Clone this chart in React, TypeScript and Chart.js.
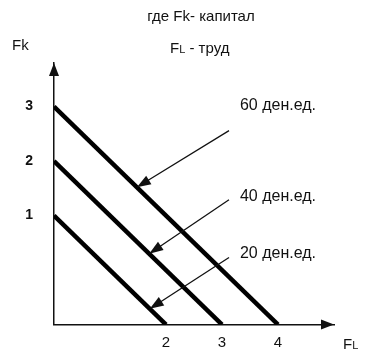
import React, { useEffect, useRef } from 'react';
import { Chart, registerables } from 'chart.js';

Chart.register(...registerables);

// Isocost lines: capital (Fk) level at FL = 0, and labor (FL) level where the line meets the FL axis
const capitalIntercepts = [3, 2, 1];
const laborIntercepts = [4, 3, 2];
const costLabels = ['60 ден.ед.', '40 ден.ед.', '20 ден.ед.'];
const capitalTicks = [1, 2, 3];
const laborTicks = [2, 3, 4];
const capitalAxisMin = -1;
const capitalAxisMax = 3.8;
const laborAxisMax = 5;

// Pointer arrows from each label to its line (data units)
const pointerFrom = [
  { x: 3.125, y: 2.56 },
  { x: 3.125, y: 1.29 },
  { x: 3.125, y: 0.23 },
];
const pointerTo = [
  { x: 1.48, y: 1.52 },
  { x: 1.7, y: 0.3 },
  { x: 1.71, y: -0.71 },
];
const labelAt = [
  { x: 3.32, y: 3.02 },
  { x: 3.32, y: 1.34 },
  { x: 3.32, y: 0.3 },
];

const FONT = '"Liberation Sans", Arial, sans-serif';

function arrowHead(ctx: CanvasRenderingContext2D, fx: number, fy: number, tx: number, ty: number, len: number, half: number) {
  const a = Math.atan2(ty - fy, tx - fx);
  const bx = tx - Math.cos(a) * len;
  const by = ty - Math.sin(a) * len;
  ctx.beginPath();
  ctx.moveTo(tx, ty);
  ctx.lineTo(bx + Math.sin(a) * half, by - Math.cos(a) * half);
  ctx.lineTo(bx - Math.sin(a) * half, by + Math.cos(a) * half);
  ctx.closePath();
  ctx.fill();
}

function drawFL(ctx: CanvasRenderingContext2D, x: number, y: number, rest: string) {
  ctx.textAlign = 'left';
  ctx.textBaseline = 'alphabetic';
  ctx.font = `15px ${FONT}`;
  ctx.fillText('F', x, y);
  const fw = ctx.measureText('F').width;
  ctx.font = `11px ${FONT}`;
  ctx.fillText('L', x + fw, y);
  const lw = ctx.measureText('L').width;
  if (rest) {
    ctx.font = `15px ${FONT}`;
    ctx.fillText(rest, x + fw + lw, y);
  }
}

const overlay = {
  id: 'overlay',
  afterDraw(chart: any) {
    const ctx: CanvasRenderingContext2D = chart.ctx;
    const xs = chart.scales.x;
    const ys = chart.scales.y;
    const area = chart.chartArea;
    ctx.save();
    ctx.fillStyle = '#111';
    ctx.strokeStyle = '#111';

    // axis arrowheads
    arrowHead(ctx, area.left, area.bottom, area.left, area.top, 13, 5);
    arrowHead(ctx, area.left, area.bottom, area.right, area.bottom, 13, 5);

    // pointer arrows
    ctx.lineWidth = 1.3;
    for (let i = 0; i < pointerFrom.length; i++) {
      const fx = xs.getPixelForValue(pointerFrom[i].x);
      const fy = ys.getPixelForValue(pointerFrom[i].y);
      const tx = xs.getPixelForValue(pointerTo[i].x);
      const ty = ys.getPixelForValue(pointerTo[i].y);
      const a = Math.atan2(ty - fy, tx - fx);
      ctx.beginPath();
      ctx.moveTo(fx, fy);
      ctx.lineTo(tx - Math.cos(a) * 8, ty - Math.sin(a) * 8);
      ctx.stroke();
      arrowHead(ctx, fx, fy, tx, ty, 14, 5);
    }

    // cost labels
    ctx.font = `16px ${FONT}`;
    ctx.textAlign = 'left';
    ctx.textBaseline = 'middle';
    for (let i = 0; i < costLabels.length; i++) {
      ctx.fillText(costLabels[i], xs.getPixelForValue(labelAt[i].x), ys.getPixelForValue(labelAt[i].y));
    }

    // header texts
    ctx.font = `15px ${FONT}`;
    ctx.textAlign = 'center';
    ctx.textBaseline = 'middle';
    ctx.fillText('где Fk- капитал', 201, 17);
    drawFL(ctx, 170, 53, ' - труд');

    // axis names
    ctx.font = `15px ${FONT}`;
    ctx.textAlign = 'left';
    ctx.textBaseline = 'middle';
    ctx.fillText('Fk', 12, 46);
    drawFL(ctx, 343, 349, '');

    ctx.restore();
  },
};

export default function App() {
  const ref = useRef<HTMLCanvasElement | null>(null);

  useEffect(() => {
    document.body.style.margin = '0';
    const canvas = ref.current;
    if (!canvas) return;
    const chart = new Chart(canvas, {
      type: 'scatter',
      data: {
        datasets: capitalIntercepts.map((c, i) => ({
          label: costLabels[i],
          data: [
            { x: 0, y: c },
            { x: laborIntercepts[i], y: capitalAxisMin },
          ],
          showLine: true,
          borderColor: '#000',
          backgroundColor: '#000',
          borderWidth: 4.5,
          pointRadius: 0,
          fill: false,
        })),
      },
      options: {
        responsive: false,
        animation: false,
        events: [],
        layout: { padding: { left: 0, top: 63, right: 36, bottom: 0 } },
        plugins: {
          legend: { display: false },
          tooltip: { enabled: false },
          title: { display: false },
        },
        scales: {
          x: {
            type: 'linear',
            position: 'bottom',
            min: 0,
            max: laborAxisMax,
            grid: { display: false, drawTicks: false },
            border: { display: true, color: '#111', width: 1.5 },
            ticks: {
              color: '#111',
              font: { family: FONT, size: 15 },
              padding: 9,
            },
            afterBuildTicks: (s: any) => {
              s.ticks = laborTicks.map((v) => ({ value: v }));
            },
            afterFit: (s: any) => {
              s.height = 25;
            },
          },
          y: {
            type: 'linear',
            position: 'left',
            min: capitalAxisMin,
            max: capitalAxisMax,
            grid: { display: false, drawTicks: false },
            border: { display: true, color: '#111', width: 1.5 },
            ticks: {
              color: '#111',
              font: { family: FONT, size: 14, weight: 'bold' },
              padding: 21,
            },
            afterBuildTicks: (s: any) => {
              s.ticks = capitalTicks.map((v) => ({ value: v }));
            },
            afterFit: (s: any) => {
              s.width = 54;
            },
          },
        },
      },
      plugins: [overlay],
    } as any);
    return () => chart.destroy();
  }, []);

  return (
    <div style={{ width: 370, height: 354, background: '#fff' }}>
      <canvas ref={ref} width={370} height={354} style={{ display: 'block' }} />
    </div>
  );
}
